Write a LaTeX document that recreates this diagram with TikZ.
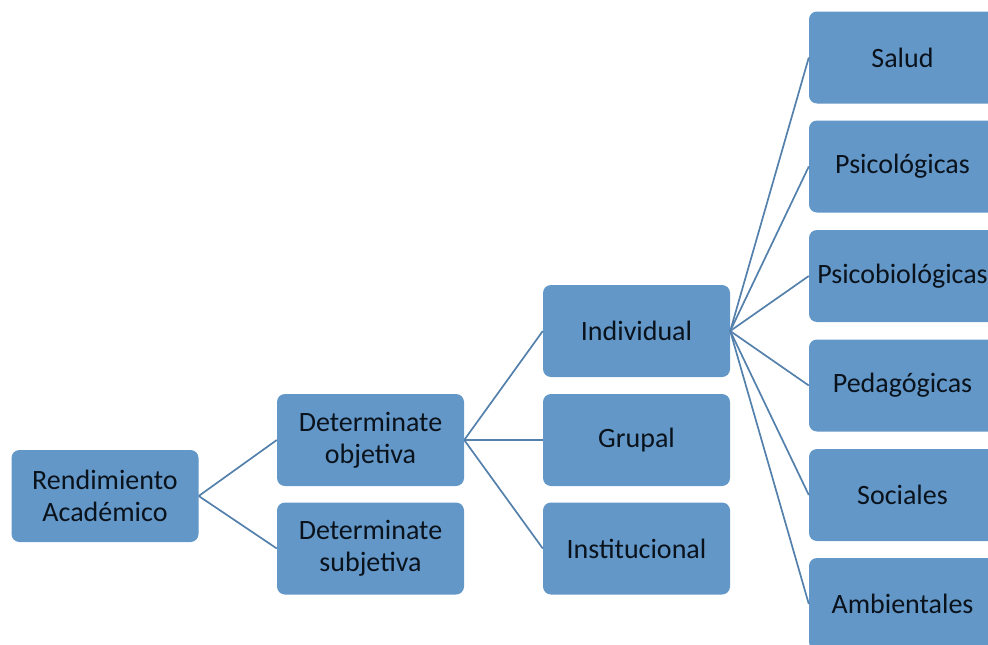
\documentclass[tikz,border=0pt]{standalone}
\usepackage{fontspec}
\setmainfont{Carlito}
\definecolor{boxblue}{RGB}{99,151,199}
\definecolor{lineblue}{RGB}{84,128,172}
\definecolor{textdark}{RGB}{10,18,28}

\begin{document}
\begin{tikzpicture}[x=1pt, y=-1pt,
    box/.style={shape=rectangle, rounded corners=8pt, fill=boxblue, draw=none,
        minimum width=187pt, minimum height=92pt, inner sep=0pt, align=center,
        text=textdark, font=\fontsize{28}{32}\selectfont},
    link/.style={-, draw=lineblue, line width=1.7pt}]
                \useasboundingbox (0,0) rectangle (988,645);
                \node[box] (RA) at (105, 496) {Rendimiento\\Académico};
                \node[box] (DO) at (370.5, 440) {Determinate\\objetiva};
                \node[box] (DS) at (370.5, 548.5) {Determinate\\subjetiva};
                \node[box] (IN) at (636.5, 331) {Individual};
                \node[box] (GR) at (636.5, 440) {Grupal};
                \node[box] (IT) at (636.5, 548.5) {Institucional};
                \node[box] (SA) at (902.5, 57.5) {Salud};
                \node[box] (PS) at (902.5, 166.5) {Psicológicas};
                \node[box] (PB) at (902.5, 276) {Psicobiológicas};
                \node[box] (PE) at (902.5, 385.5) {Pedagógicas};
                \node[box] (SO) at (902.5, 495) {Sociales};
                \node[box] (AM) at (902.5, 604) {Ambientales};
                \path[link] (RA.east) edge node[] {} (DO.west);
                \path[link] (RA.east) edge node[] {} (DS.west);
                \path[link] (DO.east) edge node[] {} (IN.west);
                \path[link] (DO.east) edge node[] {} (GR.west);
                \path[link] (DO.east) edge node[] {} (IT.west);
                \path[link] (IN.east) edge node[] {} (SA.west);
                \path[link] (IN.east) edge node[] {} (PS.west);
                \path[link] (IN.east) edge node[] {} (PB.west);
                \path[link] (IN.east) edge node[] {} (PE.west);
                \path[link] (IN.east) edge node[] {} (SO.west);
                \path[link] (IN.east) edge node[] {} (AM.west);
\end{tikzpicture}
\end{document}
